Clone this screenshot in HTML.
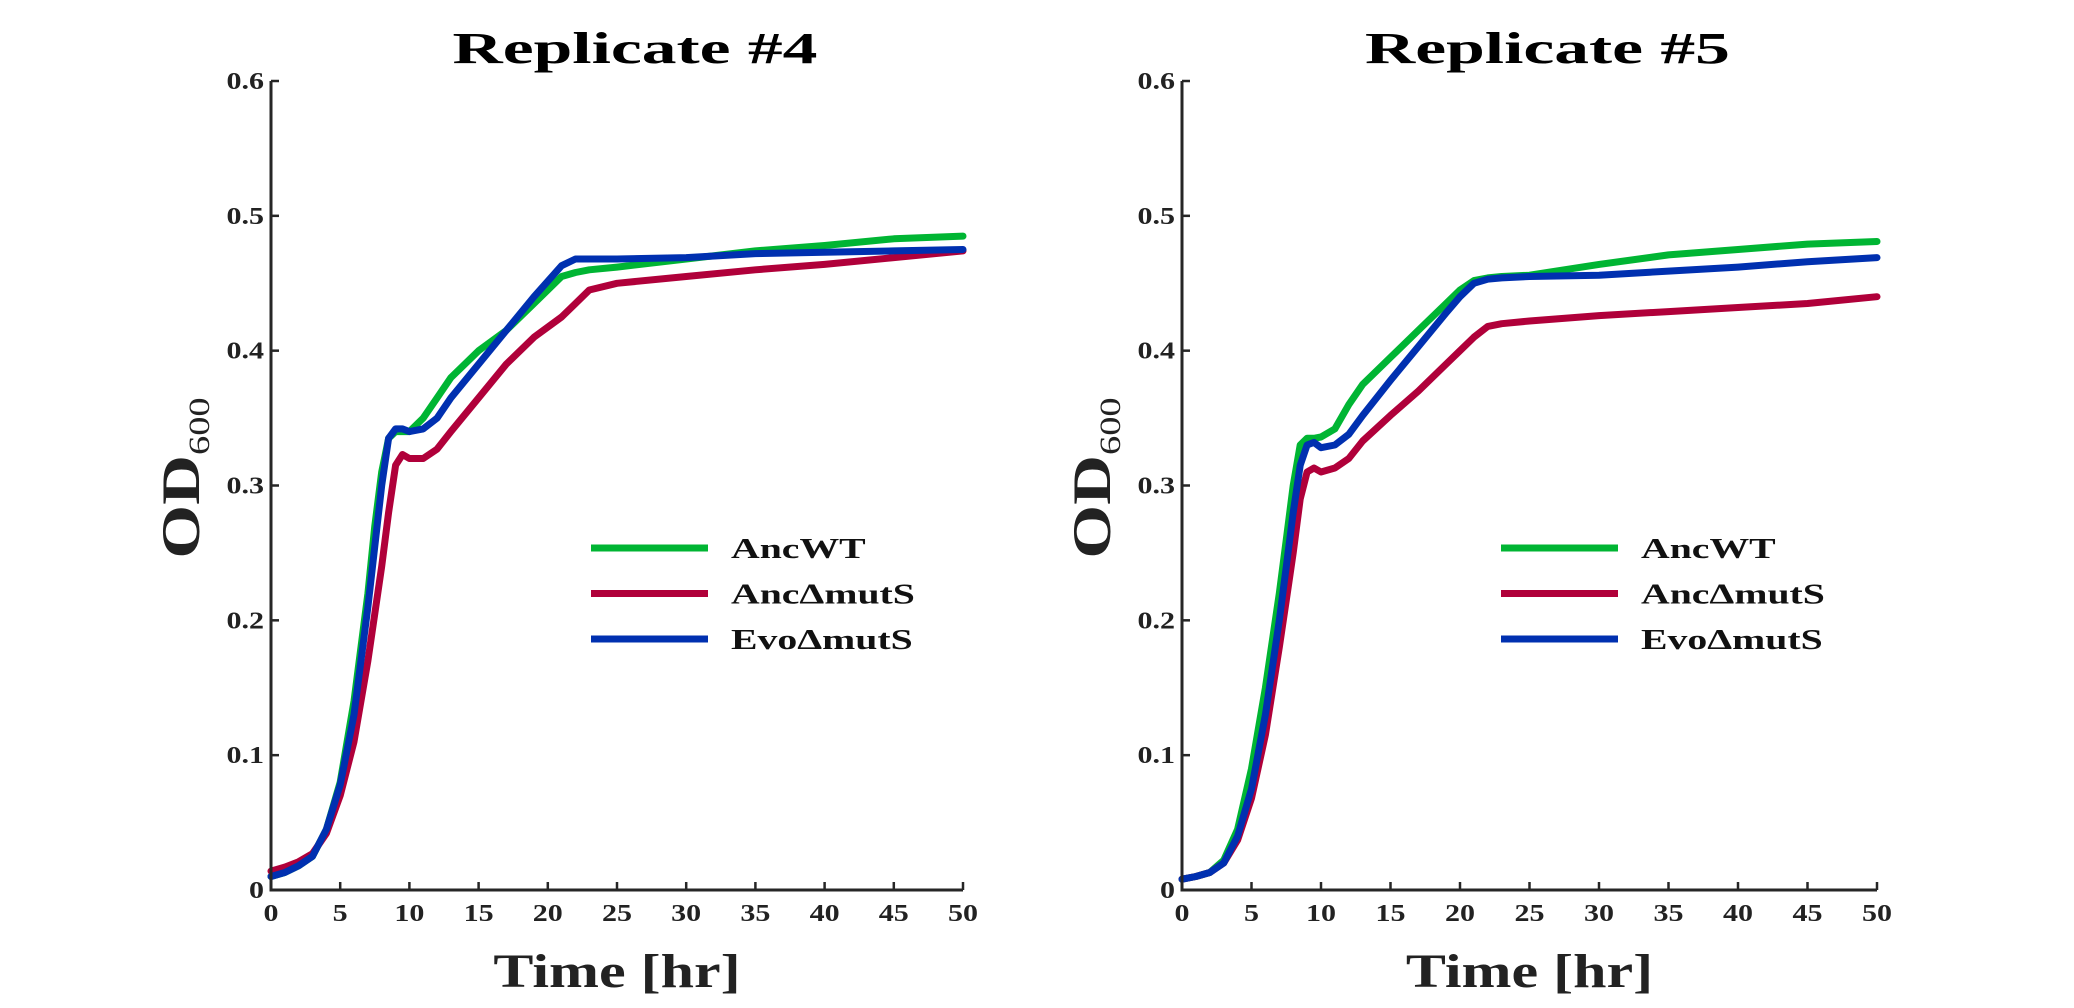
<!DOCTYPE html>
<html><head><meta charset="utf-8"><style>
html,body{margin:0;padding:0;background:#fff;}
svg{display:block;}
text{font-family:"Liberation Serif",serif;font-weight:bold;fill:#222;}
</style></head><body>
<svg id="fig" width="2074" height="1008" viewBox="0 0 2074 1008" xmlns="http://www.w3.org/2000/svg"></svg>
<script>
const xTicks=[0,5,10,15,20,25,30,35,40,45,50];
const yTicks=[0,0.1,0.2,0.3,0.4,0.5,0.6];
const yTickLabels=["0","0.1","0.2","0.3","0.4","0.5","0.6"];
const seriesNames=["AncWT","Anc\u0394mutS","Evo\u0394mutS"];
const panelTitles=["Replicate #4","Replicate #5"];
const r4Time=[0,1,2,3,4,5,6,7,7.5,8,8.5,9,9.5,10,11,12,13,15,17,19,21,22,23,25,30,35,40,45,50];
const r4AncWT=[0.010,0.013,0.018,0.025,0.045,0.080,0.140,0.220,0.270,0.310,0.335,0.340,0.340,0.340,0.350,0.365,0.380,0.400,0.415,0.435,0.455,0.458,0.460,0.462,0.468,0.474,0.478,0.483,0.485];
const r4AncMutS=[0.014,0.017,0.021,0.027,0.042,0.070,0.110,0.170,0.205,0.240,0.280,0.315,0.323,0.320,0.320,0.327,0.340,0.365,0.390,0.410,0.425,0.435,0.445,0.450,0.455,0.460,0.464,0.469,0.474];
const r4EvoMutS=[0.010,0.013,0.018,0.025,0.045,0.078,0.130,0.210,0.255,0.300,0.335,0.342,0.342,0.340,0.342,0.350,0.365,0.390,0.415,0.440,0.463,0.468,0.468,0.468,0.469,0.472,0.473,0.474,0.475];
const r5Time=[0,1,2,3,4,5,6,7,7.5,8,8.5,9,9.5,10,11,12,13,15,17,19,20,21,22,23,25,30,35,40,45,50];
const r5AncWT=[0.008,0.010,0.013,0.022,0.045,0.090,0.150,0.220,0.260,0.300,0.330,0.335,0.335,0.336,0.342,0.360,0.375,0.395,0.415,0.435,0.445,0.452,0.454,0.455,0.456,0.464,0.471,0.475,0.479,0.481];
const r5AncMutS=[0.008,0.010,0.013,0.020,0.037,0.068,0.115,0.180,0.215,0.250,0.290,0.310,0.313,0.310,0.313,0.320,0.333,0.352,0.370,0.390,0.400,0.410,0.418,0.420,0.422,0.426,0.429,0.432,0.435,0.440];
const r5EvoMutS=[0.008,0.010,0.013,0.020,0.040,0.075,0.130,0.200,0.240,0.280,0.315,0.330,0.332,0.328,0.330,0.338,0.352,0.378,0.403,0.428,0.440,0.450,0.453,0.454,0.455,0.456,0.459,0.462,0.466,0.469];
const colors=["#00b533","#b0003a","#0030b0"];
const NS="http://www.w3.org/2000/svg";
const svg=document.getElementById('fig');
function mk(tag,attrs,parent){const e=document.createElementNS(NS,tag);for(const k in attrs)e.setAttribute(k,attrs[k]);(parent||svg).appendChild(e);return e;}
function stretch(el,f){const L=el.getComputedTextLength();if(L>0){el.setAttribute('textLength',(L*f).toFixed(1));el.setAttribute('lengthAdjust','spacingAndGlyphs');}}
const panels=[
 {x0:271,x1:963,time:r4Time,ys:[r4AncWT,r4AncMutS,r4EvoMutS],legX:591,id:'rep4'},
 {x0:1182,x1:1877,time:r5Time,ys:[r5AncWT,r5AncMutS,r5EvoMutS],legX:1501,id:'rep5'}
];
const yTop=81,yBot=890;
panels.forEach((p,pi)=>{
 const g=mk('g',{});
 
 
 const sx=v=>p.x0+(v-0)/(50-0)*(p.x1-p.x0);
 const sy=v=>yBot-(v-0)/(0.6-0)*(yBot-yTop);
 const t=mk('text',{x:(p.x0+p.x1)/2+18,y:63,'text-anchor':'middle','font-size':'44'},g);
 t.textContent=panelTitles[pi];t.style.fill='#000';
 
 
 stretch(t,1.58);
 p.ys.forEach((ys,si)=>{
  const d=ys.map((v,i)=>(i?'L':'M')+sx(p.time[i]).toFixed(1)+','+sy(v).toFixed(1)).join(' ');
  const path=mk('path',{d:d,fill:'none',stroke:colors[si],'stroke-width':'7','stroke-linejoin':'round','stroke-linecap':'round'},g);
  
  
 });
 const ax=mk('path',{d:`M${p.x0},${yTop} L${p.x0},${yBot} L${p.x1},${yBot}`,fill:'none',stroke:'#262626','stroke-width':'3'},g);
 
 
 xTicks.forEach(v=>{
  const x=sx(v);
  mk('line',{x1:x,x2:x,y1:yBot,y2:yBot-8,stroke:'#262626','stroke-width':'2.5'},g);
  const tl=mk('text',{x:x,y:yBot+31,'text-anchor':'middle','font-size':'24'},g);
  tl.textContent=v;
  
  
  stretch(tl,1.25);
 });
 yTicks.forEach((v,i)=>{
  const y=sy(v);
  mk('line',{x1:p.x0,x2:p.x0+8,y1:y,y2:y,stroke:'#262626','stroke-width':'2.5'},g);
  const tl=mk('text',{x:p.x0-7,y:y+8,'text-anchor':'end','font-size':'24'},g);
  tl.textContent=yTickLabels[i];
  
  
  stretch(tl,1.25);
 });
 const xl=mk('text',{x:(p.x0+p.x1)/2,y:987,'text-anchor':'middle','font-size':'48'},g);
 xl.textContent='Time [hr]';
 
 
 stretch(xl,1.25);
 const yl=mk('text',{x:0,y:0,'text-anchor':'middle','font-size':'54',transform:`translate(${p.x0-72},478) rotate(-90)`},g);
 yl.innerHTML='OD<tspan font-size="30" font-weight="normal" dy="10">600</tspan>';
 
 
 stretch(yl,1.28);
 seriesNames.forEach((n,si)=>{
  const ly=548+si*45.5;
  const lg=mk('g',{},g);
  
  
  mk('line',{x1:p.legX,x2:p.legX+117,y1:ly,y2:ly,stroke:colors[si],'stroke-width':'7'},lg);
  const lt=mk('text',{x:p.legX+140,y:ly+10,'font-size':'29'},lg);
  lt.textContent=n;lt.style.fill='#111';
  stretch(lt,1.37);
 });
});
</script>
</body></html>
